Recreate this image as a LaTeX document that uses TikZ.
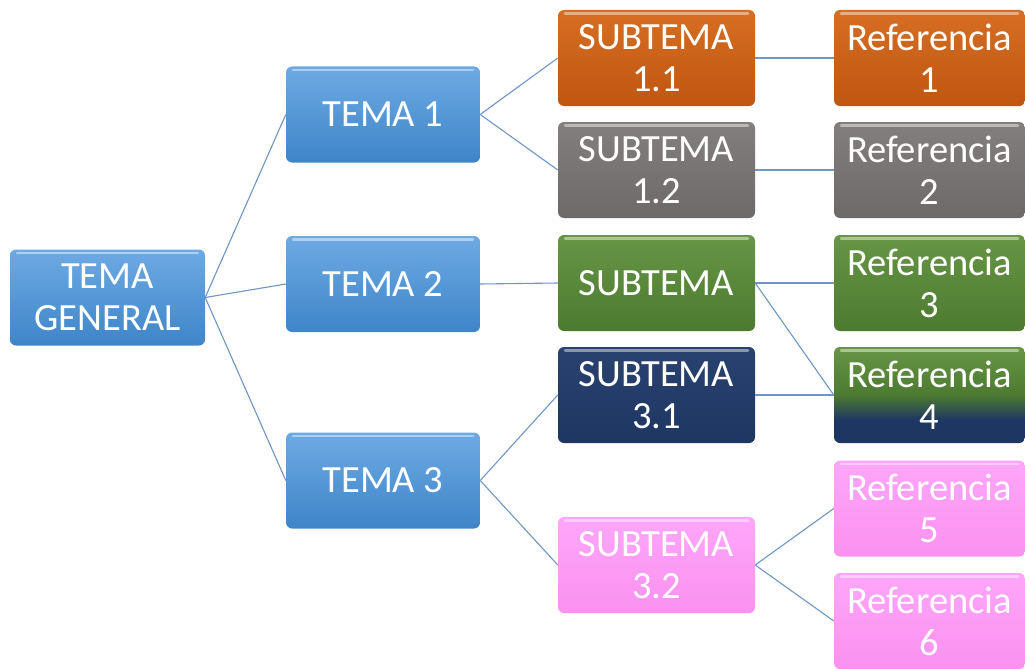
\documentclass[tikz,border=0pt]{standalone}
\usepackage{fontspec}
\setmainfont{Carlito}
\definecolor{bluetop}{RGB}{110,170,228}
\definecolor{bluebot}{RGB}{62,133,200}
\definecolor{orangetop}{RGB}{214,110,35}
\definecolor{orangebot}{RGB}{192,86,16}
\definecolor{graytop}{RGB}{132,127,127}
\definecolor{graybot}{RGB}{110,105,105}
\definecolor{greentop}{RGB}{104,150,70}
\definecolor{greenbot}{RGB}{76,122,48}
\definecolor{navytop}{RGB}{42,66,112}
\definecolor{navybot}{RGB}{30,54,98}
\definecolor{pinktop}{RGB}{255,166,250}
\definecolor{pinkbot}{RGB}{250,145,240}
\definecolor{linkcol}{RGB}{110,150,200}
\pgfdeclareverticalshading{greennavy}{100bp}{color(0bp)=(navybot); color(25bp)=(navybot); color(37bp)=(navybot); color(50bp)=(greenbot); color(75bp)=(greentop); color(100bp)=(greentop)}
\begin{document}
\begin{tikzpicture}[x=1pt,y=-1pt,
  box/.style={rounded corners=6pt, text=white, align=center, inner sep=0pt,
    minimum height=96pt, font=\fontsize{38.5}{42}\selectfont,
    path picture={\draw[white, opacity=0.45, line width=2.5pt, line cap=round]
      ([xshift=7pt,yshift=-3.5pt]path picture bounding box.north west) --
      ([xshift=-7pt,yshift=-3.5pt]path picture bounding box.north east);}},
  bluebox/.style={box, minimum width=194pt, top color=bluetop, bottom color=bluebot},
  subbox/.style={box, minimum width=197pt},
  refbox/.style={box, minimum width=191pt},
  orangefill/.style={top color=orangetop, bottom color=orangebot},
  grayfill/.style={top color=graytop, bottom color=graybot},
  greenfill/.style={top color=greentop, bottom color=greenbot},
  navyfill/.style={top color=navytop, bottom color=navybot},
  pinkfill/.style={top color=pinktop, bottom color=pinkbot},
  link/.style={draw=linkcol, line width=1.1pt}]
\useasboundingbox (0,0) rectangle (1025,669);
\fill[white] (0,0) rectangle (1025,669);
% level 0
\node[bluebox, minimum width=195pt] (tg) at (107.5,297.5) {TEMA\\GENERAL};
% level 1
\node[bluebox] (t1) at (383,114.5) {TEMA 1};
\node[bluebox] (t2) at (383,284) {TEMA 2};
\node[bluebox] (t3) at (383,480.5) {TEMA 3};
% level 2
\node[subbox, orangefill] (s11) at (656.5,58) {SUBTEMA\\1.1};
\node[subbox, grayfill] (s12) at (656.5,170) {SUBTEMA\\1.2};
\node[subbox, greenfill] (s2) at (656.5,283) {SUBTEMA};
\node[subbox, navyfill] (s31) at (656.5,395) {SUBTEMA\\3.1};
\node[subbox, pinkfill] (s32) at (656.5,565) {SUBTEMA\\3.2};
% level 3
\node[refbox, orangefill] (r1) at (929.5,58) {Referencia\\1};
\node[refbox, grayfill] (r2) at (929.5,170) {Referencia\\2};
\node[refbox, greenfill] (r3) at (929.5,283) {Referencia\\3};
\node[refbox, shading=greennavy] (r4) at (929.5,395) {Referencia\\4};
\node[refbox, pinkfill] (r5) at (929.5,508.5) {Referencia\\5};
\node[refbox, pinkfill] (r6) at (929.5,621) {Referencia\\6};
% connectors
\draw[link] (tg.east) -- (t1.west);
\draw[link] (tg.east) -- (t2.west);
\draw[link] (tg.east) -- (t3.west);
\draw[link] (t1.east) -- (s11.west);
\draw[link] (t1.east) -- (s12.west);
\draw[link] (t2.east) -- (s2.west);
\draw[link] (t3.east) -- (s31.west);
\draw[link] (t3.east) -- (s32.west);
\draw[link] (s11.east) -- (r1.west);
\draw[link] (s12.east) -- (r2.west);
\draw[link] (s2.east) -- (r3.west);
\draw[link] (s2.east) -- (r4.west);
\draw[link] (s31.east) -- (r4.west);
\draw[link] (s32.east) -- (r5.west);
\draw[link] (s32.east) -- (r6.west);
\end{tikzpicture}
\end{document}
